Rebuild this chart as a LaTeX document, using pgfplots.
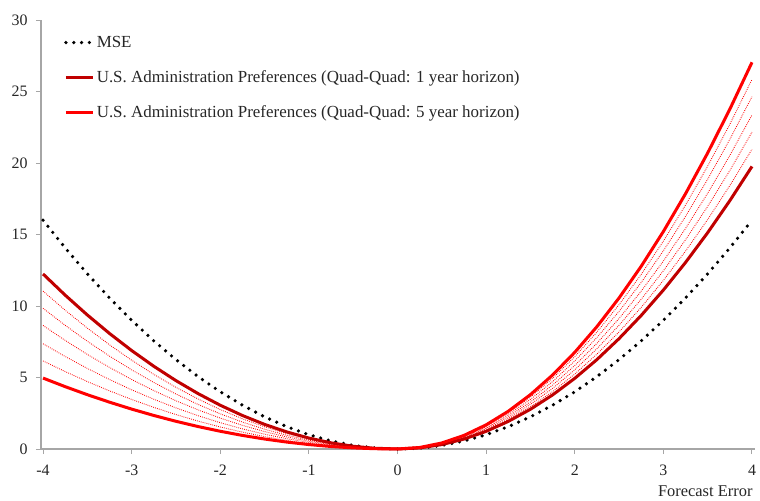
\documentclass[border=0pt]{standalone}
\usepackage{pgfplots}
\usepackage{pgfplotstable}
\pgfplotsset{compat=1.18}
\usepackage{fontspec}
\setmainfont{Liberation Serif}

\definecolor{oneyr}{HTML}{C00000}
\definecolor{fiveyr}{HTML}{FF0000}
\definecolor{axgray}{HTML}{A6A6A6}

% x, MSE, then quad-quad losses from the 1 year (q1) to the 5 year (q5) horizon
\pgfplotstableread{
x      mse      q1       d1       d2       d3       d4       d5       q5
-4     16       12.24    11.04    9.84     8.64     7.36     6.16     4.96
-3.75  14.0625  10.7578  9.7031   8.6484   7.5938   6.4688   5.4141   4.3594
-3.5   12.25    9.3713   8.4525   7.5338   6.615    5.635    4.7163   3.7975
-3.25  10.5625  8.0803   7.2881   6.4959   5.7038   4.8588   4.0666   3.2744
-3     9        6.885    6.21     5.535    4.86     4.14     3.465    2.79
-2.75  7.5625   5.7853   5.2181   4.6509   4.0838   3.4788   2.9116   2.3444
-2.5   6.25     4.7813   4.3125   3.8438   3.375    2.875    2.4063   1.9375
-2.25  5.0625   3.8728   3.4931   3.1134   2.7338   2.3288   1.9491   1.5694
-2     4        3.06     2.76     2.46     2.16     1.84     1.54     1.24
-1.75  3.0625   2.3428   2.1131   1.8834   1.6538   1.4088   1.1791   0.9494
-1.5   2.25     1.7213   1.5525   1.3838   1.215    1.035    0.8663   0.6975
-1.25  1.5625   1.1953   1.0781   0.9609   0.8438   0.7188   0.6016   0.4844
-1     1        0.765    0.69     0.615    0.54     0.46     0.385    0.31
-0.75  0.5625   0.4303   0.3881   0.3459   0.3038   0.2588   0.2166   0.1744
-0.5   0.25     0.1913   0.1725   0.1538   0.135    0.115    0.0963   0.0775
-0.25  0.0625   0.0478   0.0431   0.0384   0.0338   0.0288   0.0241   0.0194
0      0        0        0        0        0        0        0        0
0.25   0.0625   0.0772   0.0819   0.0866   0.0913   0.0963   0.1009   0.1056
0.5    0.25     0.3088   0.3275   0.3463   0.365    0.385    0.4038   0.4225
0.75   0.5625   0.6947   0.7369   0.7791   0.8213   0.8663   0.9084   0.9506
1      1        1.235    1.31     1.385    1.46     1.54     1.615    1.69
1.25   1.5625   1.9297   2.0469   2.1641   2.2813   2.4063   2.5234   2.6406
1.5    2.25     2.7788   2.9475   3.1163   3.285    3.465    3.6338   3.8025
1.75   3.0625   3.7822   4.0119   4.2416   4.4713   4.7163   4.9459   5.1756
2      4        4.94     5.24     5.54     5.84     6.16     6.46     6.76
2.25   5.0625   6.2522   6.6319   7.0116   7.3913   7.7963   8.1759   8.5556
2.5    6.25     7.7188   8.1875   8.6563   9.125    9.625    10.0938  10.5625
2.75   7.5625   9.3397   9.9069   10.4741  11.0413  11.6463  12.2134  12.7806
3      9        11.115   11.79    12.465   13.14    13.86    14.535   15.21
3.25   10.5625  13.0447  13.8369  14.6291  15.4213  16.2663  17.0584  17.8506
3.5    12.25    15.1288  16.0475  16.9663  17.885   18.865   19.7838  20.7025
3.75   14.0625  17.3672  18.4219  19.4766  20.5313  21.6563  22.7109  23.7656
4      16       19.76    20.96    22.16    23.36    24.64    25.84    27.04
}\losses

\begin{document}
\begin{tikzpicture}
\path[use as bounding box] (-41bp,-52bp) rectangle (719bp,449bp);
\begin{axis}[
  at={(0,0)}, anchor=south west,
  scale only axis,
  width=714bp, height=429bp,
  xmin=-4.023, xmax=4.034,
  ymin=0, ymax=30,
  xtick={-4,-3,...,4},
  ytick={0,5,...,30},
  axis lines=left,
  axis line style={-, draw=axgray, line width=1.2pt},
  tick style={draw=axgray, line width=1pt},
  tick align=outside,
  major tick length=5bp,
  every tick label/.append style={font=\fontsize{16}{19}\selectfont, text=black!85},
  /pgf/number format/assume math mode=true,
  xticklabel style={yshift=-7bp},
  yticklabel style={xshift=-5bp},
  xlabel={Forecast Error},
  xlabel style={at={(rel axis cs:1,0)}, anchor=north east, yshift=-33bp, xshift=1bp,
    font=\fontsize{16.5}{19}\selectfont, text=black!85},
  legend cell align=left,
  legend style={draw=none, fill=none, at={(0.028,0.972)}, anchor=north west,
    font=\fontsize{17}{20}\selectfont, text=black!85, row sep=17.5bp,
    /tikz/every even column/.append style={column sep=1bp}},
  legend image code/.code={\draw[#1] (0bp,0bp) -- (27bp,0bp);},
  clip=false,
]
% intermediate horizons
\addplot[forget plot, fiveyr, line width=0.85pt, dash pattern=on 0.8pt off 1.2pt] table[x=x,y=d1] {\losses};
\addplot[forget plot, fiveyr, line width=0.85pt, dash pattern=on 0.8pt off 1.2pt] table[x=x,y=d2] {\losses};
\addplot[forget plot, fiveyr, line width=0.85pt, dash pattern=on 0.8pt off 1.2pt] table[x=x,y=d3] {\losses};
\addplot[forget plot, fiveyr, line width=0.85pt, dash pattern=on 0.8pt off 1.2pt] table[x=x,y=d4] {\losses};
\addplot[forget plot, fiveyr, line width=0.85pt, dash pattern=on 0.8pt off 1.2pt] table[x=x,y=d5] {\losses};
% main curves
\addplot[black, line width=3.6bp, line cap=round, dash pattern=on 0bp off 7.8bp] table[x=x,y=mse] {\losses};
\addlegendentry{MSE}
\addplot[oneyr, line width=3bp] table[x=x,y=q1] {\losses};
\addlegendentry{U.S. Administration Preferences (Quad-Quad: 1 year horizon)}
\addplot[fiveyr, line width=3bp] table[x=x,y=q5] {\losses};
\addlegendentry{U.S. Administration Preferences (Quad-Quad: 5 year horizon)}
\end{axis}
\end{tikzpicture}
\end{document}
